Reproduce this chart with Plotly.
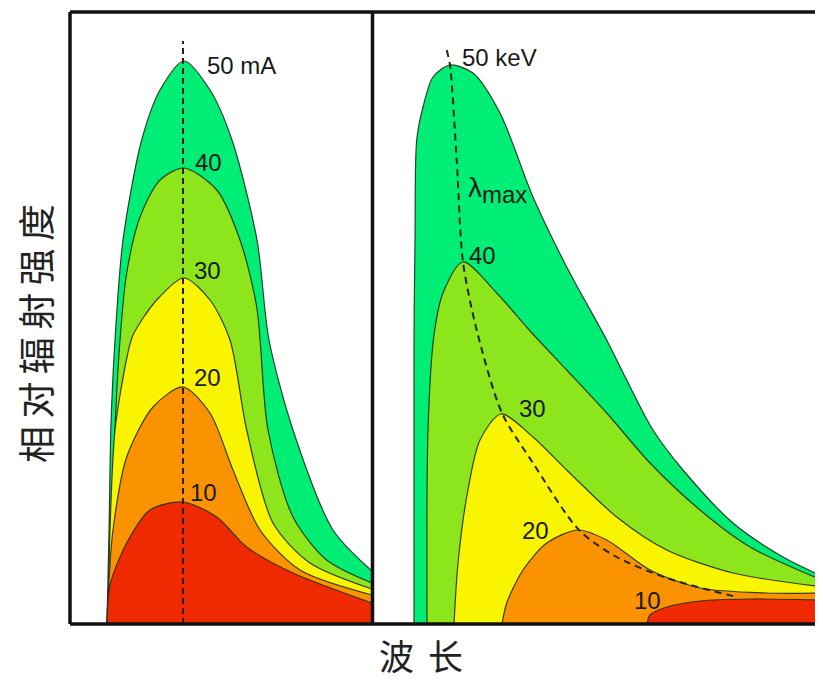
import plotly.graph_objects as go

# ---------------- data (arbitrary wavelength units, relative intensity) -------------
# Left panel: constant kV, varying tube current (mA)
ma50_wl  = [39, 41, 43, 47, 55, 73.7, 92, 116, 142, 164, 189, 201, 225, 265, 304]
ma50_int = [0, 94, 200, 284, 384, 484, 534, 563, 534, 484, 384, 284, 194, 94, 53]
ma40_wl  = [41, 44, 47, 52, 58.7, 72, 92, 116, 148.7, 172, 188.7, 200, 225, 258.7, 304]
ma40_int = [0, 94, 194, 284, 351, 407, 444, 456, 434, 384, 317, 194, 107, 64, 41]
ma30_wl  = [40, 42, 47, 59, 65, 88.7, 116, 142, 162, 178.7, 205, 242, 304]
ma30_int = [0, 94, 194, 267, 289, 324, 346, 324, 284, 194, 101, 61, 35]
ma20_wl  = [39, 40, 45, 58.7, 85, 115, 142, 165, 192, 232, 304]
ma20_int = [0, 27, 94, 167, 217, 237, 211, 154, 94, 54, 29]
ma10_wl  = [39, 42, 58.7, 82, 115, 148.7, 178.7, 225, 304]
ma10_int = [0, 39, 81, 114, 122, 107, 77, 51, 21]
ma_peak_wl  = [115, 115]
ma_peak_int = [0, 583]

# Right panel: constant mA, varying tube voltage (keV)
kv50_wl  = [42, 42, 43, 44.7, 51, 61, 78, 101, 128, 161, 194.7, 234.7, 254.7, 281, 311, 361, 411, 452]
kv50_int = [0, 284, 384, 484, 517, 547, 559, 551, 511, 427, 357, 284, 244, 194, 154, 101, 67, 47]
kv40_wl  = [55, 56, 62, 71, 91, 124.7, 159, 194.7, 234.7, 278, 328, 378, 452]
kv40_int = [0, 194, 289, 331, 362, 331, 292, 254, 211, 161, 114, 77, 43]
kv30_wl  = [82, 86, 94.7, 108, 129, 161, 194.7, 244.7, 294.7, 361, 452]
kv30_int = [0, 61, 127, 184, 210, 187, 154, 107, 74, 51, 37]
kv20_wl  = [130, 134.7, 151, 174.7, 206, 234.7, 278, 328, 394.7, 452]
kv20_int = [0, 21, 54, 81, 94, 84, 54, 36, 31, 31]
kv10_wl  = [275, 278, 295, 328, 378, 452]
kv10_int = [0, 9, 17, 23, 25, 24]
lmax_wl  = [74.7, 78, 84.7, 91, 104.7, 130, 161, 207, 244.7, 294.7, 364.7]
lmax_int = [574, 559, 464, 362, 294, 211, 161, 94, 67, 46, 27]

left_labels = ["50 mA", "40", "30", "20", "10"]
left_lab_wl = [137, 125, 124, 124, 120]
left_lab_int = [559, 462, 354, 247, 132]
right_labels = ["50 keV", "λ<sub><span style='font-size:24px'>max</span></sub>", "40", "30", "20", "10"]
right_lab_wl = [88, 94, 95, 145, 148, 260]
right_lab_int = [567, 434, 369, 216, 94, 24]

colors = ["#00ee76", "#8de51c", "#f9f400", "#fb9300", "#f02a00"]
OUT = "rgba(35,45,25,0.9)"

fig = go.Figure()

left = [(ma50_wl, ma50_int), (ma40_wl, ma40_int), (ma30_wl, ma30_int),
        (ma20_wl, ma20_int), (ma10_wl, ma10_int)]
right = [(kv50_wl, kv50_int), (kv40_wl, kv40_int), (kv30_wl, kv30_int),
         (kv20_wl, kv20_int), (kv10_wl, kv10_int)]

for (xs, ys), c in zip(left, colors):
    fig.add_trace(go.Scatter(x=xs, y=ys, mode="lines", fill="tozeroy", fillcolor=c,
                             line=dict(color=OUT, width=1.2, shape="spline", smoothing=0.8),
                             xaxis="x", yaxis="y", hoverinfo="skip"))
for (xs, ys), c in zip(right, colors):
    fig.add_trace(go.Scatter(x=xs, y=ys, mode="lines", fill="tozeroy", fillcolor=c,
                             line=dict(color=OUT, width=1.2, shape="spline", smoothing=0.8),
                             xaxis="x2", yaxis="y2", hoverinfo="skip"))

fig.add_trace(go.Scatter(x=ma_peak_wl, y=ma_peak_int, mode="lines",
                         line=dict(color="#2a1e14", width=2, dash="6px,4px"),
                         xaxis="x", yaxis="y", hoverinfo="skip"))
fig.add_trace(go.Scatter(x=lmax_wl, y=lmax_int, mode="lines",
                         line=dict(color="#1e2a1a", width=2, dash="7px,5px", shape="spline", smoothing=0.8),
                         xaxis="x2", yaxis="y2", hoverinfo="skip"))

LBL_FONT = dict(family="Liberation Sans, Arial", size=24, color="#1a1a1a")
ann = []
for t, x, y in zip(left_labels, left_lab_wl, left_lab_int):
    ann.append(dict(x=x, y=y, xref="x", yref="y", text=t, showarrow=False,
                    xanchor="left", yanchor="middle", font=LBL_FONT))
for t, x, y in zip(right_labels, right_lab_wl, right_lab_int):
    f = dict(LBL_FONT)
    if t.startswith("λ"):
        f["size"] = 28
    ann.append(dict(x=x, y=y, xref="x2", yref="y2", text=t, showarrow=False,
                    xanchor="left", yanchor="middle", font=f))

# page body has an 8px margin, so figure coords = page coords - 8
OFF = 8
W, H = 823 - OFF, 680 - OFF
ML, MR, MT, MB = 70 - OFF, 0, 12 - OFF, 56
pw, ph = W - ML - MR, H - MT - MB

def px(xp):
    return (xp - OFF - ML) / pw

def py(yp):
    return (H - MB - (yp - OFF)) / ph

ann.append(dict(x=px(35), y=py(334), xref="paper", yref="paper",
                text="相\u2009对\u2009辐\u2009射\u2009强\u2009度",
                textangle=-90, showarrow=False, xanchor="center", yanchor="middle",
                font=dict(family="Noto Sans CJK SC", size=37, color="#222")))
ann.append(dict(x=px(421), y=py(654), xref="paper", yref="paper", text="波\u2009\u2009长",
                showarrow=False, xanchor="center", yanchor="middle",
                font=dict(family="Noto Sans CJK SC", size=35, color="#222")))

split = px(372.5)

shapes = []
def line(x0, y0, x1, y1):
    shapes.append(dict(type="line", xref="paper", yref="paper", x0=x0, y0=y0, x1=x1, y1=y1,
                       line=dict(color="#111", width=3.5), layer="above"))
line(0, 1, 1.02, 1)
line(0, 0, 1.02, 0)
line(0, 0, 0, 1)
line(split, 0, split, 1)

fig.update_layout(
    width=W, height=H, margin=dict(l=ML, r=MR, t=MT, b=MB),
    paper_bgcolor="white", plot_bgcolor="white", showlegend=False,
    xaxis=dict(domain=[0, split], range=[2, 304.5], visible=False),
    yaxis=dict(domain=[0, 1], range=[0, 612], visible=False),
    xaxis2=dict(domain=[split, 1], range=[0.5, 451], visible=False),
    yaxis2=dict(domain=[0, 1], range=[0, 612], visible=False, anchor="x2"),
    annotations=ann, shapes=shapes,
)

fig.write_html("out.html")
